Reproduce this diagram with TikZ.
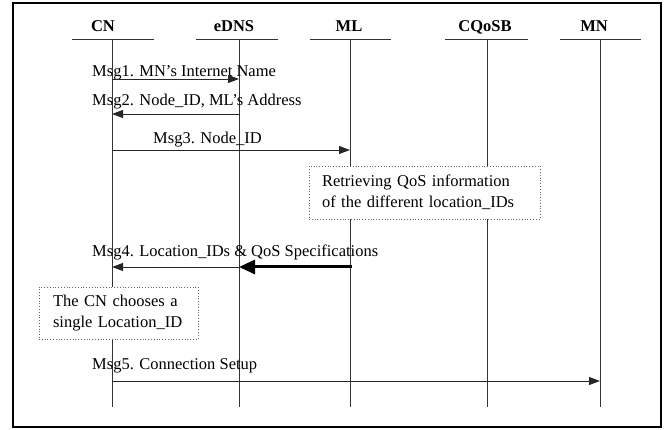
\documentclass[tikz,border=0pt]{standalone}
\usepackage{fontspec}
\setmainfont{Liberation Serif}
\usetikzlibrary{arrows.meta}
\begin{document}
\begin{tikzpicture}[x=1pt,y=-1pt,
  lbl/.style={font=\fontsize{16.5}{18}\selectfont\bfseries, anchor=base, inner sep=0pt},
  msg/.style={font=\fontsize{16.5}{18}\selectfont, anchor=base west, inner sep=0pt},
  life/.style={line width=0.9pt, draw=black!80},
  hdr/.style={line width=0.9pt, draw=black!80},
  arr/.style={line width=0.9pt, draw=black!85, -{Triangle[length=11pt,width=8pt]}},
  bigarr/.style={line width=3pt, draw=black, -{Triangle[length=16pt,width=14pt]}},
  note/.style={draw=black!60, dotted, line width=0.8pt, align=left,
     font=\fontsize{16.5}{21}\selectfont, inner ysep=0pt, anchor=center}
]
\useasboundingbox (0,0) rectangle (672,430);
\draw[line width=1.6pt] (13,3) rectangle (661,427);

% headers
\node[lbl] (cnL) at (103,32) {CN};
\node[lbl] (ednsL) at (234,32) {eDNS};
\node[lbl] (mlL) at (349,32) {ML};
\node[lbl] (cqL) at (485,32) {CQoSB};
\node[lbl] (mnL) at (594,32) {MN};

\draw[hdr] (72,39) -- (154,39);
\draw[hdr] (196,39) -- (278,39);
\draw[hdr] (310,39) -- (391,39);
\draw[hdr] (445,39) -- (528,39);
\draw[hdr] (560,39) -- (641,39);

% lifeline ends
\coordinate (cnT) at (112,39);   \coordinate (cnB) at (112,407);
\coordinate (edT) at (239,39);   \coordinate (edB) at (239,407);
\coordinate (mlT) at (350,39);   \coordinate (mlB) at (350,407);
\coordinate (cqT) at (487,39);   \coordinate (cqB) at (487,407);
\coordinate (mnT) at (600,39);   \coordinate (mnB) at (600,407);
\draw[life] (cnT) -- (cnB);
\draw[life] (edT) -- (edB);
\draw[life] (mlT) -- (mlB);
\draw[life] (cqT) -- (cqB);
\draw[life] (mnT) -- (mnB);

% message points
\coordinate (m1a) at (112,79);  \coordinate (m1b) at (239,79);
\coordinate (m2a) at (239,114); \coordinate (m2b) at (112,114);
\coordinate (m3a) at (112,150); \coordinate (m3b) at (350,150);
\coordinate (m4a) at (352,267); \coordinate (m4b) at (239,267); \coordinate (m4c) at (112,267);
\coordinate (m5a) at (112,381); \coordinate (m5b) at (600,381);

\node[msg] (t1) at (92,77) {Msg1. MN’s Internet Name};
\draw[arr] (m1a) -- (m1b);
\node[msg] (t2) at (92,106) {Msg2. Node\_ID, ML’s Address};
\draw[arr] (m2a) -- (m2b);
\node[msg] (t3) at (153,144) {Msg3. Node\_ID};
\draw[arr] (m3a) -- (m3b);

\node[note, fill=white, minimum width=231pt, minimum height=53pt, text width=205pt] (n1) at (424.5,192.5)
  {Retrieving QoS information\\of the different location\_IDs};

\node[msg] (t4) at (92,257) {Msg4. Location\_IDs \& QoS Specifications};
\draw[arr] (m4b) -- (m4c);
\draw[bigarr] (m4a) -- (m4b);

\node[note, fill=white, minimum width=159pt, minimum height=52pt, text width=131pt] (n2) at (118.5,313)
  {The CN chooses a\\single Location\_ID};

\node[msg] (t5) at (92,369) {Msg5. Connection Setup};
\draw[arr] (m5a) -- (m5b);
\end{tikzpicture}
\end{document}
